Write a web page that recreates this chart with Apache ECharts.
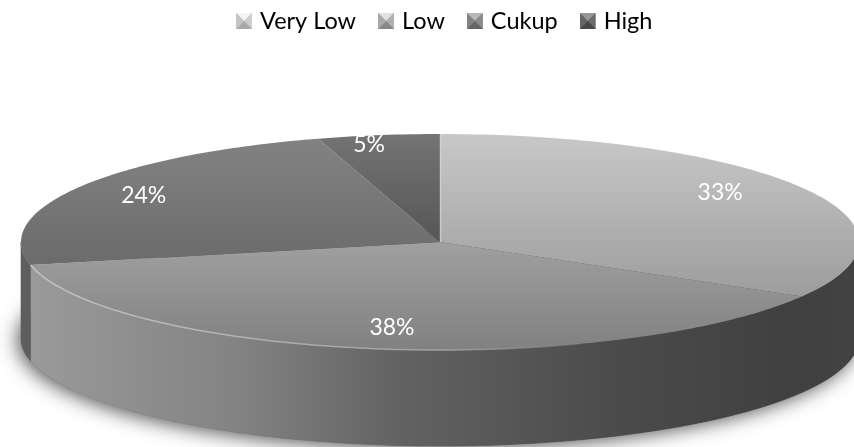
<!DOCTYPE html>
<html><head><meta charset="utf-8">
<style>html,body{margin:0;padding:0;background:#fff}#c{width:854px;height:447px}</style>
<script src="https://cdn.jsdelivr.net/npm/echarts@6/dist/echarts.min.js"></script>
</head><body><div id="c"></div>
<script>
const categories = ['Very Low', 'Low', 'Cukup', 'High'];
const values = [33.4, 38.2, 23.7, 4.7];

const CX = 440, CY = 242, RX = 419, RY = 108, DEPTH = 96;
const FONT = 'Lato, "Open Sans", sans-serif';
const total = values.reduce((a, b) => a + b, 0);
const labelFactor = [[0.771, 0.93], [0.733, 0.797], [0.82, 0.86], [1.15, 0.918]];
const topStops = [
  [[0, '#c8c8c8'], [1, '#9c9c9c']],
  [[0, '#a2a2a2'], [1, '#808080']],
  [[0, '#828282'], [1, '#6a6a6a']],
  [[0, '#747474'], [1, '#565656']]
];
const topRange = [[134, 300], [235, 352], [140, 270], [134, 242]];
const iconCols = [['#f4f4f4', '#cccccc', '#a8a8a8', '#c4c4c4'], ['#e0e0e0', '#b0b0b0', '#888888', '#a8a8a8'],
                  ['#b8b8b8', '#8a8a8a', '#666666', '#828282'], ['#989898', '#6c6c6c', '#484848', '#646464']];

function pt(deg, dy) {
  const a = deg * Math.PI / 180;
  return [CX + RX * Math.sin(a), CY - RY * Math.cos(a) + (dy || 0)];
}
function arc(a0, a1, dy) {
  const n = Math.max(2, Math.ceil(Math.abs(a1 - a0)));
  const out = [];
  for (let i = 0; i <= n; i++) out.push(pt(a0 + (a1 - a0) * i / n, dy));
  return out;
}
function grad(x0, y0, x1, y1, stops) {
  return new echarts.graphic.LinearGradient(x0, y0, x1, y1, stops.map(s => ({offset: s[0], color: s[1]})), true);
}
function icon(c) {
  const svg = `<svg xmlns="http://www.w3.org/2000/svg" width="16" height="16"><rect width="16" height="16" fill="${c[1]}"/>` +
    `<path d="M0 0H16L8 8Z" fill="${c[0]}"/><path d="M16 0V16L8 8Z" fill="${c[1]}"/>` +
    `<path d="M0 16H16L8 8Z" fill="${c[2]}"/><path d="M0 0V16L8 8Z" fill="${c[3]}"/></svg>`;
  return 'image://data:image/svg+xml;charset=utf-8,' + encodeURIComponent(svg);
}

let acc = 0;
const spans = values.map(v => { const s = [acc * 360 / total, (acc + v) * 360 / total]; acc += v; return s; });

const wallFill = grad(30, 0, 854, 0, [[0, '#9a9a9a'], [0.25, '#838383'], [0.45, '#626262'], [0.7, '#4c4c4c'], [0.92, '#404040'], [1, '#424242']]);

function sliceRender(i) {
  return function (params, api) {
    const v = api.value(0);
    const a0 = spans[i][0], a1 = a0 + v * 360 / total;
    const ch = [];
    // side wall: only the part of the rim facing the viewer (90 to 270 degrees)
    const w0 = Math.max(a0, 90), w1 = Math.min(a1, 270);
    if (w1 > w0) {
      const wallTop = arc(w0, w1, 0), wallBot = arc(w1, w0, DEPTH);
      const f = i === 2 ? '#5e5e5e' : wallFill;
      ch.push({type: 'polygon', shape: {points: wallTop.concat(wallBot)},
        style: {fill: f, stroke: f, lineWidth: 0.6}, z2: 1});
    }
    // top face
    const pts = [[CX, CY]].concat(arc(a0, a1, 0));
    ch.push({type: 'polygon', shape: {points: pts},
      style: {fill: grad(0, topRange[i][0], 0, topRange[i][1], topStops[i])}, z2: 2});
    // light rim
    if (i === 1) {
      ch.push({type: 'polyline', shape: {points: arc(a1, a0 + 40, 0)},
        style: {fill: null, stroke: grad(30, 0, 620, 0, [[0, '#c4c4c4'], [0.7, '#a0a0a0'], [1, 'rgba(150,150,150,0)']]), lineWidth: 1.5}, z2: 3});
    }
    if (i === 0) {
      ch.push({type: 'line', shape: {x1: CX + 0.5, y1: CY - RY, x2: CX + 0.5, y2: CY},
        style: {stroke: 'rgba(215,215,215,0.7)', lineWidth: 1.5}, z2: 3});
    }
    // label
    const mid = (a0 + a1) / 2 * Math.PI / 180;
    const f = labelFactor[i];
    ch.push({type: 'text', z2: 10,
      x: CX + RX * Math.sin(mid) * f[0], y: CY - RY * Math.cos(mid) * f[1] + 1,
      style: {text: Math.round(v) + '%', fill: '#fff', fontFamily: FONT, fontSize: 23, align: 'center', verticalAlign: 'middle'}});
    return {type: 'group', children: ch};
  };
}

const shadowSeries = {
  type: 'custom', coordinateSystem: 'none', silent: true, data: [1], z: 1,
  renderItem: () => ({
    type: 'polygon', shape: {points: arc(0, 360, DEPTH)},
    style: {fill: '#555', shadowBlur: 20, shadowColor: 'rgba(0,0,0,0.7)', shadowOffsetX: -3, shadowOffsetY: 2}
  })
};

const chart = echarts.init(document.getElementById('c'), null, {renderer: 'canvas'});
chart.setOption({
  animation: false,
  backgroundColor: '#fff',
  legend: {
    left: 231, top: 4, itemWidth: 16, itemHeight: 16, itemGap: 22,
    selectedMode: false,
    data: categories.map((n, i) => ({name: n, icon: icon(iconCols[i])})),
    textStyle: {color: '#000', fontFamily: FONT, fontSize: 23.5, padding: [0, 0, 0, 3]}
  },
  series: [shadowSeries].concat(categories.map((n, i) => ({
    type: 'custom', name: n, coordinateSystem: 'none', z: 2,
    itemStyle: {color: iconCols[i][1]},
    data: [values[i]], renderItem: sliceRender(i)
  })))
});
</script></body></html>
